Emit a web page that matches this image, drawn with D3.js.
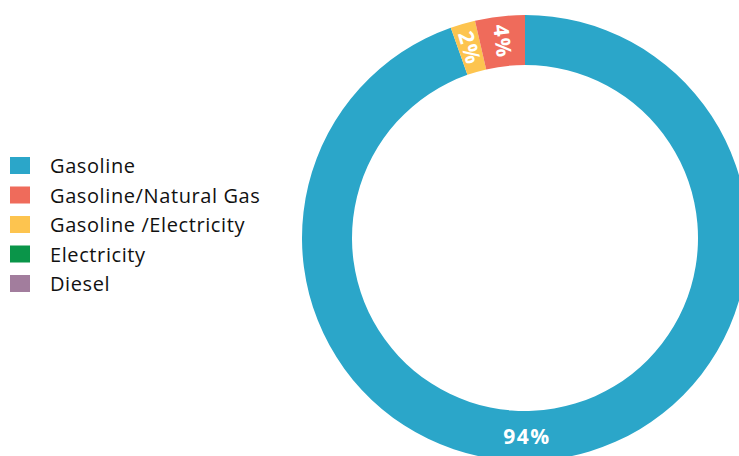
<!DOCTYPE html>
<html><head><meta charset="utf-8">
<script src="https://cdn.jsdelivr.net/npm/d3@7"></script>
<style>html,body{margin:0;padding:0;background:#fff;overflow:hidden}</style>
</head><body>
<svg id="chart" width="739" height="456"></svg>
<script>
const categories = ["Gasoline", "Gasoline/Natural Gas", "Gasoline /Electricity", "Electricity", "Diesel"];
const shares = [94.6, 3.6, 1.8, 0, 0];
const labels = ["94%", "4%", "2%", "", ""];
const colors = ["#2ba6c9", "#ef6b5b", "#fdc44f", "#0a9549", "#a27d9d"];
// drawing order around the ring (clockwise from 12 o'clock)
const ringOrder = [0, 2, 1, 3, 4];

const svg = d3.select("#chart");
const cx = 525, cy = 238, rOuter = 223, rInner = 173;

const color = d3.scaleOrdinal().domain(categories).range(colors);
const data = ringOrder.map(i => ({cat: categories[i], v: shares[i], label: labels[i]}));

const pie = d3.pie().value(d => d.v).sort(null);
const arc = d3.arc().innerRadius(rInner).outerRadius(rOuter);
const arcs = pie(data);

const g = svg.append("g").attr("transform", `translate(${cx},${cy})`);
g.selectAll("path").data(arcs).join("path")
  .attr("d", arc).attr("fill", d => color(d.data.cat));

const rMid = (rInner + rOuter) / 2;
g.selectAll("text").data(arcs.filter(d => d.data.label)).join("text")
  .attr("transform", d => {
    const small = (d.endAngle - d.startAngle) < 0.5;
    const a = small ? (d.startAngle + d.endAngle) / 2 : Math.PI;
    const x = rMid * Math.sin(a), y = -rMid * Math.cos(a);
    const rot = small ? a * 180 / Math.PI - 270 : 0;
    return `translate(${x + (small ? 0 : 2)},${y})
 rotate(${rot})`;
  })
  .attr("text-anchor", "middle").attr("dy", "0.36em")
  .attr("fill", "#fff").attr("font-family", "'Open Sans', sans-serif")
  .attr("font-weight", "bold").attr("font-size", 21).attr("letter-spacing", 1.5)
  .text(d => d.data.label);

const legend = svg.append("g");
const y = d3.scaleBand().domain(categories).range([150, 297.5]).paddingInner(0);
const rows = legend.selectAll("g").data(categories).join("g")
  .attr("transform", d => `translate(0,${y(d)})`);
rows.append("rect").attr("x", 10).attr("y", 7).attr("width", 20).attr("height", 17)
  .attr("fill", d => color(d));
rows.append("text").attr("x", 50).attr("y", 23)
  .attr("font-family", "'Open Sans', sans-serif").attr("font-size", 20)
  .attr("letter-spacing", 0.6).attr("fill", "#111")
  .text(d => d);
</script>
</body></html>
